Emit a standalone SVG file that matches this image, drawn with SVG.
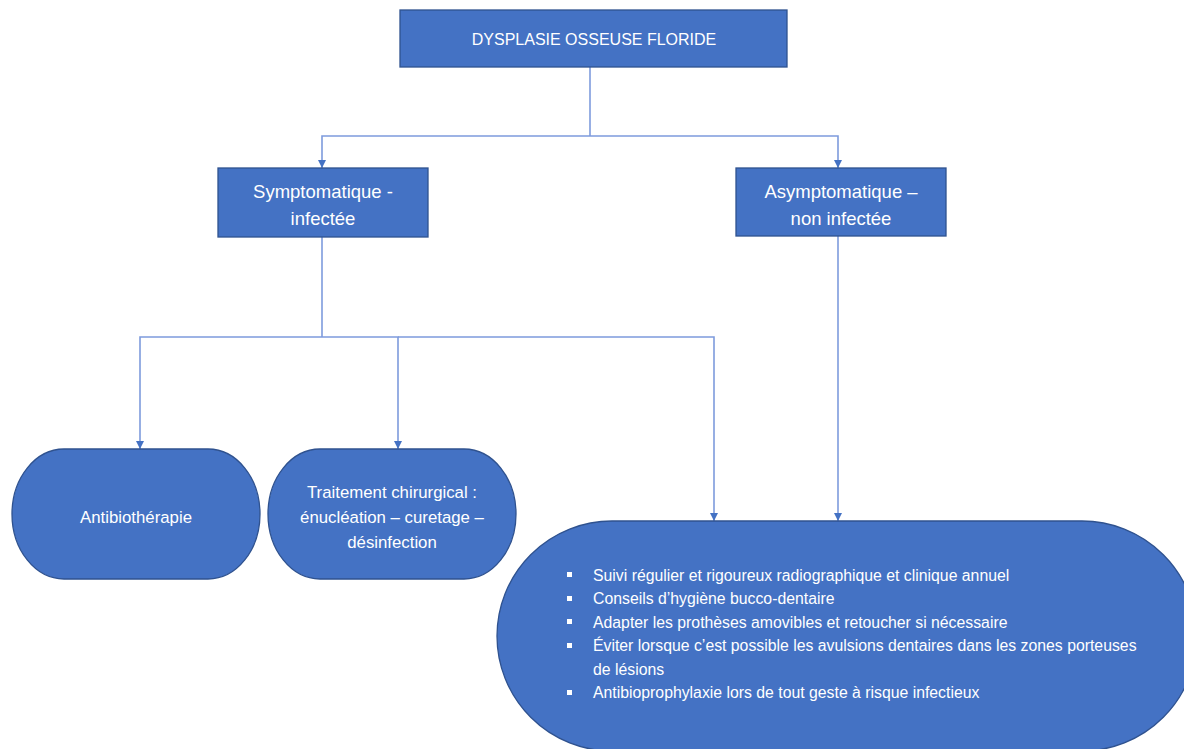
<svg xmlns="http://www.w3.org/2000/svg" width="1184" height="749" viewBox="0 0 1184 749">
<style>
.box{fill:#4472C4;stroke:#2F528F;stroke-width:1.3}
.t{fill:#ffffff;font-family:"Liberation Sans",Arial,sans-serif;text-anchor:middle}
.b{fill:#ffffff;font-family:"Liberation Sans",Arial,sans-serif;font-size:15.8px}
.c{fill:none;stroke:#7E9BDD;stroke-width:1.6}
</style>
<defs>
<marker id="arr" viewBox="0 0 10 10" refX="10" refY="5" markerWidth="5" markerHeight="5" orient="auto" markerUnits="strokeWidth">
<path d="M0,0 L10,5 L0,10 z" fill="#4472C4"/>
</marker>
</defs>
<rect width="1184" height="749" fill="#ffffff"/>
<g id="connectors">
<polyline class="c" points="590,67 590,136"/>
<polyline class="c" points="590,136 322,136 322,168" marker-end="url(#arr)"/>
<polyline class="c" points="590,136 838,136 838,168" marker-end="url(#arr)"/>
<polyline class="c" points="322,237 322,337"/>
<polyline class="c" points="322,337 140,337 140,449" marker-end="url(#arr)"/>
<polyline class="c" points="322,337 398,337 398,449" marker-end="url(#arr)"/>
<polyline class="c" points="398,337 714,337 714,521" marker-end="url(#arr)"/>
<polyline class="c" points="838,236 838,521" marker-end="url(#arr)"/>
</g>
<g id="root">
<rect class="box" x="400" y="10" width="387" height="57"/>
<text class="t" x="594" y="45" font-size="16">DYSPLASIE OSSEUSE FLORIDE</text>
</g>
<g id="symptomatique">
<rect class="box" x="218" y="168" width="210" height="69"/>
<text class="t" x="323" y="198" font-size="18.5">Symptomatique -</text>
<text class="t" x="323" y="225" font-size="18.5">infectée</text>
</g>
<g id="asymptomatique">
<rect class="box" x="736" y="168" width="210" height="68"/>
<text class="t" x="841" y="198" font-size="18.5">Asymptomatique –</text>
<text class="t" x="841" y="225" font-size="18.5">non infectée</text>
</g>
<g id="antibiotherapie">
<rect class="box" x="12" y="449" width="248" height="130" rx="52" ry="65"/>
<text class="t" x="136" y="523" font-size="16.8">Antibiothérapie</text>
</g>
<g id="chirurgical">
<rect class="box" x="268" y="449" width="248" height="130" rx="52" ry="65"/>
<text class="t" x="392" y="498" font-size="16.8">Traitement chirurgical :</text>
<text class="t" x="392" y="523" font-size="16.8">énucléation – curetage –</text>
<text class="t" x="392" y="548" font-size="16.8">désinfection</text>
</g>
<g id="suivi">
<rect class="box" x="497" y="521" width="700" height="230" rx="115" ry="115"/>
<g class="b">
<rect x="567" y="572" width="5" height="5" fill="#fff"/>
<text x="593" y="581">Suivi régulier et rigoureux radiographique et clinique annuel</text>
<rect x="567" y="596" width="5" height="5" fill="#fff"/>
<text x="593" y="604">Conseils d’hygiène bucco-dentaire</text>
<rect x="567" y="619" width="5" height="5" fill="#fff"/>
<text x="593" y="628">Adapter les prothèses amovibles et retoucher si nécessaire</text>
<rect x="567" y="643" width="5" height="5" fill="#fff"/>
<text x="593" y="651">Éviter lorsque c’est possible les avulsions dentaires dans les zones porteuses</text>
<text x="593" y="675">de lésions</text>
<rect x="567" y="690" width="5" height="5" fill="#fff"/>
<text x="593" y="698">Antibioprophylaxie lors de tout geste à risque infectieux</text>
</g>
</g>
</svg>
